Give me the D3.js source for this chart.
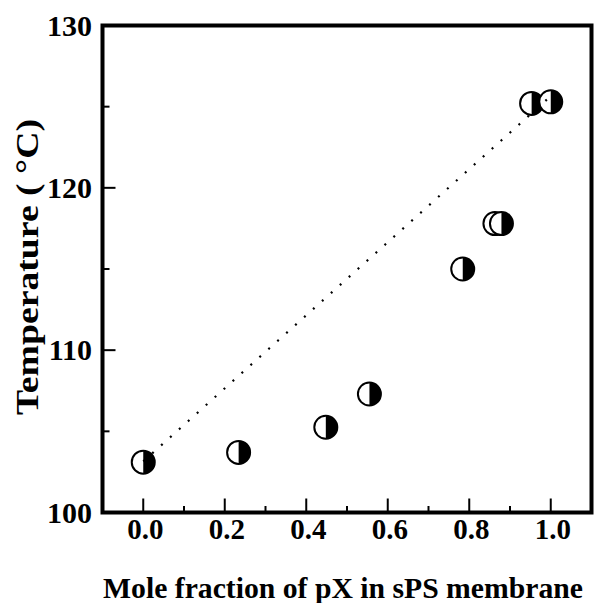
<!DOCTYPE html>
<html>
<head>
<meta charset="utf-8">
<script src="https://cdn.jsdelivr.net/npm/d3@7"></script>
<style>
  body { margin: 0; background: #fff; }
  text { font-family: "Liberation Serif", "Times New Roman", serif; font-weight: bold; fill: #000; }
</style>
</head>
<body>
<div id="chart"></div>
<script>
// measured points (mole fraction of pX, temperature in °C)
const fraction = [0.0, 0.234, 0.448, 0.555, 0.784, 0.863, 0.879, 0.953, 1.0];
const temperature = [103.1, 103.7, 105.25, 107.3, 115.0, 117.8, 117.8, 125.2, 125.3];

// dotted guide line
const lineFraction = [0.0, 1.0];
const lineTemperature = [103.15, 125.65];

const xTicks = [0.0, 0.2, 0.4, 0.6, 0.8, 1.0];
const xMinorTicks = [0.1, 0.3, 0.5, 0.7, 0.9];
const yTicks = [100, 110, 120, 130];
const yMinorTicks = [105, 115, 125];

const W = 607, H = 603;
const x = d3.scaleLinear().domain([-0.1, 1.1]).range([102.5, 591.5]);
const y = d3.scaleLinear().domain([100, 130]).range([512.5, 25.5]);

const svg = d3.select("#chart").append("svg")
  .attr("width", W).attr("height", H);

// ticks (inward, bottom and left only)
const tickG = svg.append("g").attr("stroke", "#000").attr("stroke-width", 2);
tickG.selectAll(".xmaj").data(xTicks).enter().append("line")
  .attr("x1", d => x(d)).attr("x2", d => x(d))
  .attr("y1", y(100)).attr("y2", y(100) - 14);
tickG.selectAll(".xmin").data(xMinorTicks).enter().append("line")
  .attr("x1", d => x(d)).attr("x2", d => x(d))
  .attr("y1", y(100)).attr("y2", y(100) - 6.5);
tickG.selectAll(".ymaj").data(yTicks).enter().append("line")
  .attr("x1", x(-0.1)).attr("x2", x(-0.1) + 13)
  .attr("y1", d => y(d)).attr("y2", d => y(d));
tickG.selectAll(".ymin").data(yMinorTicks).enter().append("line")
  .attr("x1", x(-0.1)).attr("x2", x(-0.1) + 7)
  .attr("y1", d => y(d)).attr("y2", d => y(d));

// frame
svg.append("rect")
  .attr("x", x(-0.1)).attr("y", y(130))
  .attr("width", x(1.1) - x(-0.1)).attr("height", y(100) - y(130))
  .attr("fill", "none").attr("stroke", "#000").attr("stroke-width", 4);

// tick labels
svg.selectAll(".xl").data(xTicks).enter().append("text")
  .attr("x", d => x(d) + 2).attr("y", 538.5)
  .attr("text-anchor", "middle").attr("font-size", 29)
  .text(d => d3.format(".1f")(d));
svg.selectAll(".yl").data(yTicks).enter().append("text")
  .attr("x", 92).attr("y", d => y(d) + 10)
  .attr("text-anchor", "end").attr("font-size", 30)
  .text(d => d);

// axis titles
svg.append("text")
  .attr("x", 343).attr("y", 598)
  .attr("text-anchor", "middle").attr("font-size", 29.7)
  .text("Mole fraction of pX in sPS membrane");
svg.append("text")
  .attr("transform", "translate(38,267) rotate(-90)")
  .attr("text-anchor", "middle").attr("font-size", 31)
  .attr("textLength", 296).attr("lengthAdjust", "spacingAndGlyphs")
  .text("Temperature ( \u00B0C)");

// half-filled circle markers
const r = 11.5;
const half = d3.arc().innerRadius(0).outerRadius(r).startAngle(0).endAngle(Math.PI);
const pts = fraction.map((f, i) => ({ f, t: temperature[i] }));
const mk = svg.selectAll(".mk").data(pts).enter().append("g")
  .attr("transform", d => `translate(${x(d.f)},${y(d.t)})`);
mk.append("circle").attr("r", r).attr("fill", "#fff");
mk.append("path").attr("d", half()).attr("fill", "#000");
mk.append("circle").attr("r", r).attr("fill", "none")
  .attr("stroke", "#000").attr("stroke-width", 2);

// dotted line
const line = d3.line().x(d => x(d[0])).y(d => y(d[1]));
svg.append("path")
  .datum(lineFraction.map((f, i) => [f, lineTemperature[i]]))
  .attr("d", line)
  .attr("fill", "none").attr("stroke", "#000")
  .attr("stroke-width", 2.2).attr("stroke-dasharray", "2,10");
</script>
</body>
</html>
